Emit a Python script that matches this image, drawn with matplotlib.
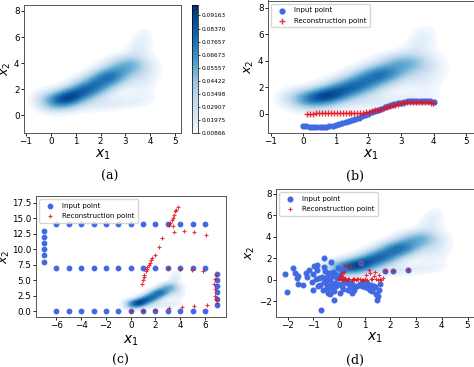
import numpy as np
import matplotlib.pyplot as plt

# colorbar levels printed next to panel (a)
cbar_ticks = [0.00866, 0.01975, 0.02907, 0.03498, 0.04422,
              0.05557, 0.06673, 0.07657, 0.08370, 0.09163]

# density bumps read off the shaded cloud:
# centre, spread along / across the ridge, ridge angle (deg), height
bump_cx = [0.7, 1.6, 2.4, 3.1, 3.6, 2.6, 3.8, 1.8, 0.0]
bump_cy = [1.35, 2.1, 3.0, 3.9, 5.5, 0.9, 2.8, 2.2, 1.1]
bump_sa = [0.6, 0.6, 0.6, 0.5, 1.0, 1.1, 1.2, 2.0, 0.5]
bump_sc = [0.45, 0.5, 0.5, 0.55, 0.35, 0.4, 0.45, 1.0, 0.6]
bump_ang = [40, 45, 45, 55, 80, 10, 85, 45, 30]
bump_h = [0.065, 0.05, 0.055, 0.032, 0.016, 0.014, 0.013, 0.012, 0.025]

# (b) input curve and its reconstruction
b_in_x = [0.0, 0.1, 0.2, 0.3, 0.4, 0.5, 0.6, 0.7, 0.8, 0.9, 1.0, 1.1, 1.2, 1.3,
          1.4, 1.5, 1.6, 1.7, 1.8, 1.9, 2.0, 2.1, 2.2, 2.3, 2.4, 2.5, 2.6, 2.7,
          2.8, 2.9, 3.0, 3.1, 3.2, 3.3, 3.4, 3.5, 3.6, 3.7, 3.8, 3.9, 4.0]
b_in_y = [-0.91, -0.95, -0.97, -0.99, -1.0, -1.0, -0.99, -0.96, -0.93, -0.89,
          -0.84, -0.78, -0.72, -0.64, -0.56, -0.48, -0.39, -0.30, -0.20, -0.10,
          0.0, 0.10, 0.20, 0.30, 0.39, 0.48, 0.56, 0.64, 0.72, 0.78, 0.84, 0.89,
          0.93, 0.96, 0.99, 1.0, 1.0, 0.99, 0.97, 0.95, 0.91]
b_rec_x = [0.13, 0.22, 0.31, 0.40, 0.49, 0.58, 0.67, 0.76, 0.85, 0.94, 1.03,
           1.12, 1.21, 1.30, 1.39, 1.48, 1.57, 1.66, 1.75, 1.84, 1.93, 2.02,
           2.11, 2.20, 2.29, 2.38, 2.47, 2.56, 2.65, 2.74, 2.83, 2.92, 3.01,
           3.10, 3.19, 3.28, 3.37, 3.46, 3.55, 3.64, 3.73, 3.82, 3.91, 3.98]
b_rec_y = [0.0, 0.01, 0.02, 0.03, 0.04, 0.05, 0.06, 0.07, 0.08, 0.08, 0.08,
           0.07, 0.07, 0.06, 0.05, 0.04, 0.04, 0.04, 0.05, 0.07, 0.10, 0.14,
           0.19, 0.25, 0.31, 0.38, 0.45, 0.52, 0.58, 0.64, 0.70, 0.75, 0.79,
           0.83, 0.86, 0.88, 0.90, 0.91, 0.91, 0.90, 0.88, 0.86, 0.83, 0.80]

# (c) grid shaped input and reconstruction
c_in_x = ([-6, -5, -4, -3, -2, -1, 0, 1, 2, 3, 4, 5, 6] * 3
          + [-7] * 6 + [7] * 6)
c_in_y = ([0] * 13 + [7] * 13 + [14] * 13
          + [8, 9, 10, 11, 12, 13] + [1, 2, 3, 4, 5, 6])
c_rec_x = [0.9, 0.97, 1.05, 1.1, 1.2, 1.3, 1.35, 1.45, 1.55, 1.65, 1.75, 1.93,
           2.25, 2.55, 3.07, 3.2, 3.3, 3.4, 3.5, 3.6, 3.65, 3.8,
           3.45, 3.5, 4.27, 5.13, 6.05,
           3.0, 4.0, 4.97, 5.87, 6.88, 6.82, 6.74, 6.79, 6.82, 6.9, 6.95,
           0.0, 1.0, 2.0, 3.1, 4.13, 5.15, 6.15]
c_rec_y = [4.3, 5.0, 5.5, 5.9, 6.4, 6.8, 7.1, 7.4, 7.8, 8.2, 8.6, 9.1,
           10.4, 11.8, 13.9, 14.3, 14.7, 15.1, 15.6, 16.1, 16.4, 16.9,
           13.7, 12.7, 12.9, 12.7, 12.3,
           7.0, 6.75, 6.6, 6.5, 5.9, 5.1, 4.4, 3.6, 2.4, 1.9, 1.3,
           0.0, 0.05, 0.15, 0.45, 0.65, 0.8, 1.0]

# (d) scattered input and reconstruction
d_in_x = [-2.1, -2.04, -1.8, -1.72, -1.62, -1.58, -1.58, -1.23, -1.15, -1.06,
          -1.02, -1.0, -0.96, -0.86, -0.77, -0.74, -0.71, -0.63, -0.6, -0.57,
          -0.54, -0.51, -0.48, -0.44, -0.42, -0.35, -0.31, -0.28, -0.22, -0.19,
          -0.16, -0.09, -0.03, 0.04, 0.1, 0.3, 0.43, 0.49, 0.69, 0.95, 1.01,
          1.14, 1.21, 1.35, 1.4, 1.45, 1.47, 1.53, 1.48,
          -0.65, -0.6, -0.5, -0.45, -0.4, -0.3, -0.25, -0.2, -0.15, -0.1,
          -0.05, 0.0, 0.05, 0.15, 0.2, 0.35, 0.45, 0.55, 0.6, 0.8, 0.9, 1.1,
          1.25, 1.3, 1.55, 1.6, -0.85, -0.9, -1.3, -1.4, -0.8, -0.35, 0.2, 0.1,
          0.85, 1.8, 2.1, 2.7]
d_in_y = [0.56, -1.14, 1.08, 0.6, 0.15, 0.32, -0.37, 0.25, 0.95, -0.21,
          -0.93, 0.56, 1.33, 1.39, 0.15, -0.46, -2.84, -0.93, 2.04, 1.23,
          0.86, -0.15, -0.52, 0.46, -1.23, 0.0, 1.66, -0.77, 0.77, -1.85,
          -0.31, 0.15, 1.08, -1.23, -0.52, -0.31, -0.62, -1.23, -0.52, -0.15,
          -0.62, -0.77, -0.93, -0.53, -0.62, -1.3, -1.39, -1.54, -1.91,
          0.3, -0.2, 0.2, -0.8, 0.6, -0.45, 0.35, -1.0, 0.55, -0.6,
          0.25, -0.35, 0.5, -0.8, -0.1, -0.9, -0.25, -0.5, -0.9, -0.35, -0.6,
          -0.3, -0.5, -1.0, -0.9, -0.4, 0.9, 0.1, 0.6, -0.5, -0.6, -1.3, 1.0,
          0.8, 1.6, 0.8, 0.85, 0.95]
d_rec_x = [0.0, 0.03, 0.05, 0.08, 0.1, 0.12, 0.15, 0.18, 0.2, 0.22, 0.25, 0.3,
           0.35, 0.4, 0.45, 0.5, 0.55, 0.6, 0.65, 0.7, 0.75, 0.85, 0.9, 1.0,
           1.05, 1.1, 1.15, 1.2, 1.25, 1.3, 1.35, 1.4, 1.45, 1.5, 1.55, 1.6,
           1.65, 1.7, 1.8, 2.1, 2.7, 0.6, 0.8, 0.95]
d_rec_y = [0.05, 0.2, 0.4, 0.1, 0.6, 0.0, 0.3, 0.75, 0.05, 1.25, 0.15, 0.0,
           0.1, 0.05, 1.3, 0.0, 0.1, 0.05, 0.0, 0.1, 0.05, 1.6, 0.0, 0.1,
           0.5, 0.0, 0.9, 0.6, 0.1, 0.05, 0.4, 0.75, 0.1, 0.0, 0.45, 0.1,
           0.0, 0.15, 0.8, 0.85, 0.95, 0.05, 0.1, 0.0]

# shaded density on a grid
gx, gy = np.meshgrid(np.linspace(-2.0, 6.0, 320), np.linspace(-2.0, 9.0, 320))
dens = np.zeros_like(gx)
for cx, cy, sa, sc, ang, h in zip(bump_cx, bump_cy, bump_sa, bump_sc, bump_ang, bump_h):
    t = np.deg2rad(ang)
    u = ((gx - cx) * np.cos(t) + (gy - cy) * np.sin(t)) / sa
    v = (-(gx - cx) * np.sin(t) + (gy - cy) * np.cos(t)) / sc
    dens += h * np.exp(-(u * u + v * v) / 2)

levels = []
for i in range(len(cbar_ticks) - 1):
    levels += list(np.linspace(cbar_ticks[i], cbar_ticks[i + 1], 6)[:-1])
step = (cbar_ticks[-1] - cbar_ticks[-2]) / 5
levels += [cbar_ticks[-1] + k * step for k in range(5)]
dens = np.minimum(dens, levels[-1] * 0.999)

W, H = 474, 367
fig = plt.figure(figsize=(W / 100, H / 100), dpi=100)


def box(l, t, r, b):
    return [l / W, 1 - b / H, (r - l) / W, (b - t) / H]


def style(ax, ylab_x, xlab_y):
    for s in ax.spines.values():
        s.set_linewidth(0.7)
        s.set_color('#555555')
    ax.tick_params(labelsize=6.3, length=2.2, width=0.6, pad=1)
    ax.set_xlabel('$x_1$', fontsize=10)
    ax.set_ylabel('$x_2$', fontsize=9)
    ax.yaxis.set_label_coords(ylab_x, 0.5)
    ax.xaxis.set_label_coords(0.5, xlab_y)


def add_legend(ax):
    ax.legend(loc='upper left', fontsize=5, borderpad=0.5, handletextpad=0.8,
              labelspacing=0.6, framealpha=0.8)


blue = '#4169e1'
red = '#e8101a'

# (a)
ax = fig.add_axes(box(24, 5, 181, 133))
cs = ax.contourf(gx, gy, dens, levels=levels, cmap='Blues')
ax.set_xlim(-1.08, 5.24)
ax.set_ylim(-1.36, 8.46)
ax.set_xticks([-1, 0, 1, 2, 3, 4, 5])
ax.set_yticks([0, 2, 4, 6, 8])
style(ax, -0.07, -0.115)
cax = fig.add_axes(box(192, 5, 198, 133))
cb = fig.colorbar(cs, cax=cax, ticks=cbar_ticks)
cb.ax.set_yticklabels(['%.5f' % t for t in cbar_ticks])
cb.ax.tick_params(labelsize=4.2, length=1.5, width=0.5, pad=1)
cb.outline.set_linewidth(0.5)

# (b)
ax = fig.add_axes(box(268, 0.5, 474, 133))
ax.contourf(gx, gy, dens, levels=levels, cmap='Blues')
ax.scatter(b_in_x, b_in_y, s=12, color=blue, label='Input point', zorder=3)
ax.scatter(b_rec_x, b_rec_y, s=14, marker='+', color=red, linewidths=1.0,
           alpha=0.85, label='Reconstruction point', zorder=4)
ax.set_xlim(-1.08, 5.24)
ax.set_ylim(-1.45, 8.55)
ax.set_xticks([-1, 0, 1, 2, 3, 4, 5])
ax.set_yticks([0, 2, 4, 6, 8])
style(ax, -0.06, -0.11)
add_legend(ax)

# (c)
ax = fig.add_axes(box(36, 196, 226, 317))
ax.contourf(gx, gy, dens, levels=levels, cmap='Blues')
ax.scatter(c_in_x, c_in_y, s=10, color=blue, label='Input point', zorder=3)
ax.scatter(c_rec_x, c_rec_y, s=12, marker='+', color=red, linewidths=0.8,
           alpha=0.85, label='Reconstruction point', zorder=4)
ax.set_xlim(-7.65, 7.7)
ax.set_ylim(-0.97, 18.6)
ax.set_xticks([-6, -4, -2, 0, 2, 4, 6])
ax.set_yticks([0, 2.5, 5, 7.5, 10, 12.5, 15, 17.5])
ax.set_yticklabels(['0.0', '2.5', '5.0', '7.5', '10.0', '12.5', '15.0', '17.5'])
style(ax, -0.128, -0.14)
add_legend(ax)

# (d)
ax = fig.add_axes(box(276, 189, 474, 317))
ax.contourf(gx, gy, dens, levels=levels, cmap='Blues')
ax.scatter(d_in_x, d_in_y, s=11, color=blue, label='Input point', zorder=3)
ax.scatter(d_rec_x, d_rec_y, s=10, marker='+', color=red, linewidths=0.8,
           alpha=0.85, label='Reconstruction point', zorder=4)
ax.set_xlim(-2.45, 5.25)
ax.set_ylim(-3.45, 8.46)
ax.set_xticks([-2, -1, 0, 1, 2, 3, 4, 5])
ax.set_yticks([-2, 0, 2, 4, 6, 8])
style(ax, -0.095, -0.11)
add_legend(ax)

for lab, x, y in [('(a)', 110, 176), ('(b)', 355, 176), ('(c)', 120, 360), ('(d)', 355, 360)]:
    fig.text(x / W, 1 - y / H, lab, ha='center', va='center', fontsize=9,
             family='DejaVu Serif')

fig.savefig('out.png', dpi=100)
